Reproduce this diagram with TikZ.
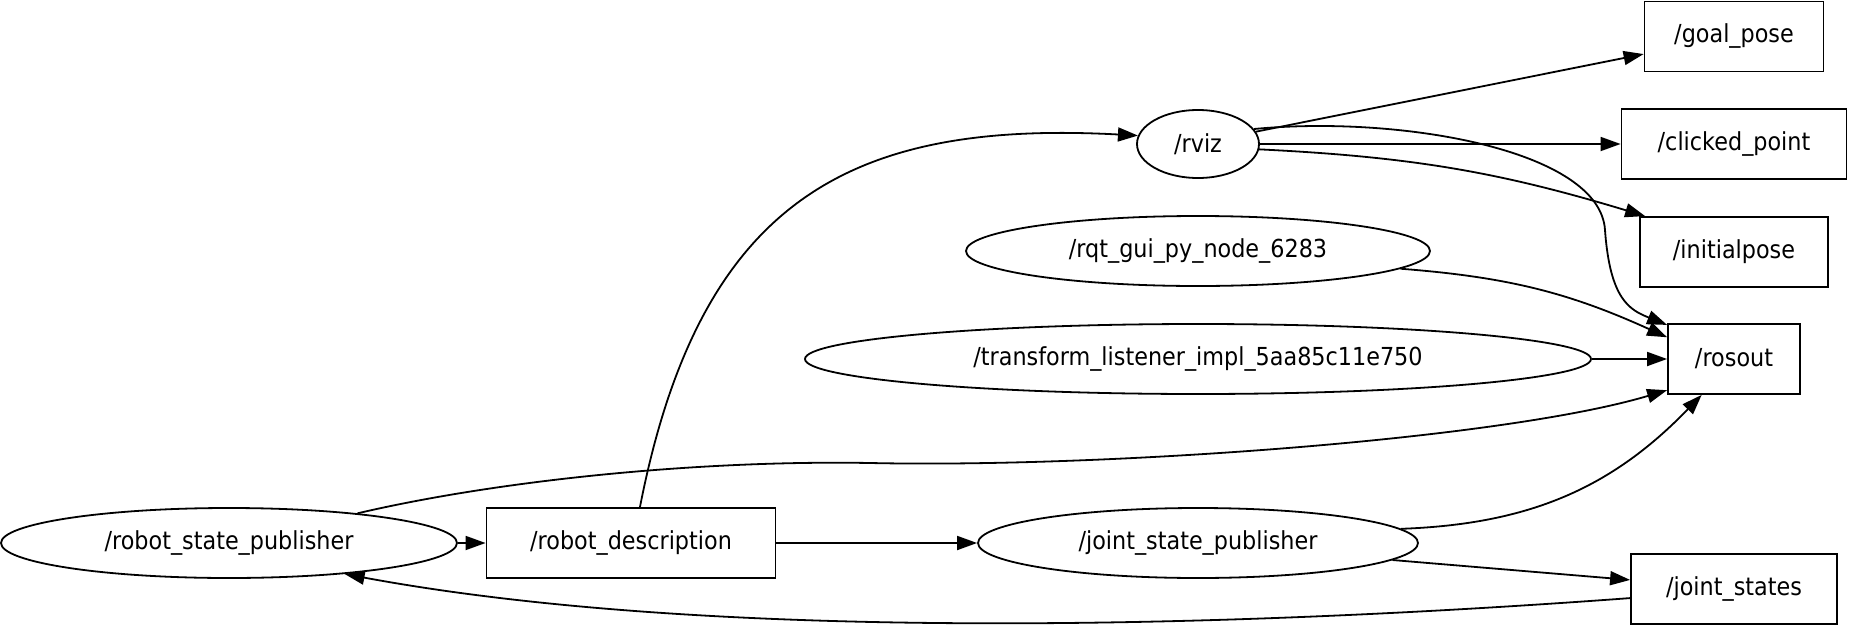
\documentclass[tikz,border=0pt]{standalone}
\usepackage{fontspec}
\setmainfont{DejaVu Sans}[FakeStretch=0.9]
\usetikzlibrary{arrows.meta,shapes.geometric}
\tikzset{>={Triangle[length=10pt,width=7pt]},every node/.style={font=\fontsize{12.4}{14}\selectfont},
topic/.style={draw,rectangle,line width=.9pt,minimum height=35pt,inner sep=0pt},
proc/.style={draw,ellipse,line width=.9pt,minimum height=35pt,inner sep=0pt},
flow/.style={line width=.9pt,->}}
\begin{document}
\begin{tikzpicture}[x=.5pt,y=-.5pt]
\useasboundingbox (0,0) rectangle (1849,643);
\node[proc,minimum width=228pt] (rsp) at (229,543) {/robot\_state\_publisher};
\node[topic,minimum width=144.5pt] (rdesc) at (631,543) {/robot\_description};
\node[proc,minimum width=220pt] (jsp) at (1198,543) {/joint\_state\_publisher};
\node[proc,minimum width=61pt,minimum height=34pt] (rviz) at (1198,144) {/rviz};
\node[proc,minimum width=232pt] (rqt) at (1198,251) {/rqt\_gui\_py\_node\_6283};
\node[proc,minimum width=393pt] (tfl) at (1198,359) {/transform\_listener\_impl\_5aa85c11e750};
\node[topic,minimum width=89.5pt] (goal) at (1734,36.5) {/goal\_pose};
\node[topic,minimum width=112.5pt] (click) at (1734,144) {/clicked\_point};
\node[topic,minimum width=94pt] (init) at (1734,252) {/initialpose};
\node[topic,minimum width=66pt] (rosout) at (1734,359) {/rosout};
\node[topic,minimum width=103pt] (jstates) at (1734,589) {/joint\_states};
\draw[flow] (rsp) -- (rdesc);\draw[flow] (rdesc) -- (jsp);
\draw[flow] (rdesc.76) .. controls (700,200) and (850,120) .. (rviz.172);
\draw[flow] (rsp.13) .. controls (500,480) and (700,460) .. (870,463) .. controls (1100,468) and (1500,440) .. (rosout.205);
\draw[flow] (rviz.12) -- (goal.191);\draw[flow] (rviz) -- (click);
\draw[flow] (rviz.-5) to[bend left=7] (init.158);
\draw[flow] (rviz.15) .. controls (1400,115) and (1600,150) .. (1605,230) .. controls (1610,300) and (1630,310) .. (rosout.153);
\draw[flow] (rqt.-5) to[bend left=10] (rosout.162);
\draw[flow] (tfl) -- (rosout);
\draw[flow] (jsp.4) to[bend right=22] (rosout.228);
\draw[flow] (jsp.-5) -- (jstates.175);
\draw[flow] (jstates.185) .. controls (1200,630) and (700,640) .. (rsp.-15);
\end{tikzpicture}
\end{document}
